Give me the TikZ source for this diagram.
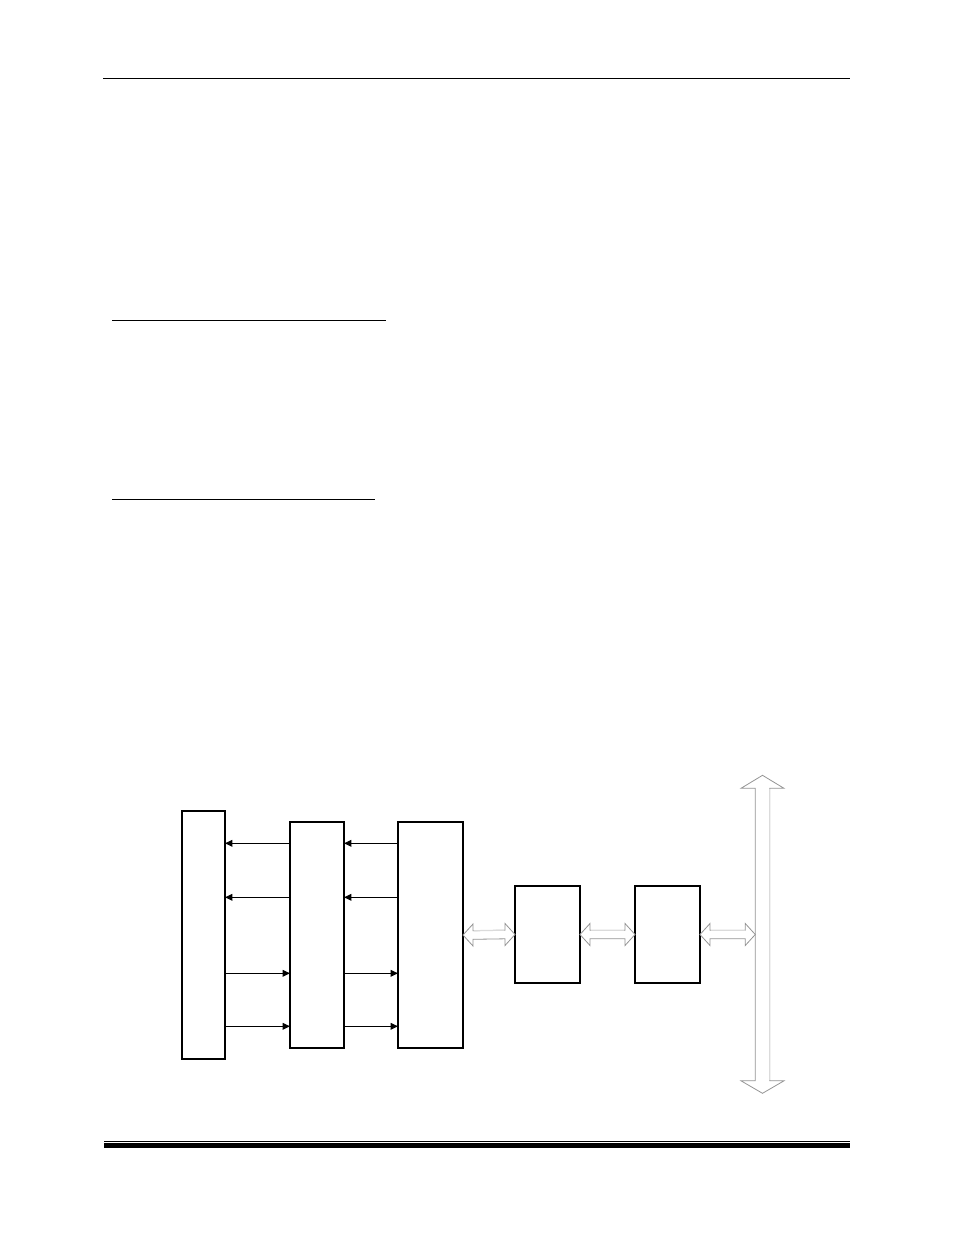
\documentclass[tikz,border=0pt]{standalone}
\usetikzlibrary{calc,arrows.meta}
\definecolor{bdark}{gray}{0.58}
\definecolor{blight}{gray}{0.86}
\newcommand\dblarr[2]{%
  \filldraw[barrow] (#1) -- ($(#1)+(10,-11)$) -- ($(#1)+(10,-4.3)$) -- ($(#2)+(-10,-4.3)$) -- ($(#2)+(-10,-11)$) -- (#2) -- ($(#2)+(-10,11)$) -- ($(#2)+(-10,4.3)$) -- ($(#1)+(10,4.3)$) -- ($(#1)+(10,11)$) -- cycle;
  \draw[blight, line width=0.9pt] ($(#1)+(10.6,-4.3)$) -- ($(#2)+(-10.6,-4.3)$);
}
\begin{document}
\begin{tikzpicture}[x=0.75pt,y=-0.75pt,
  blk/.style={draw, line width=0.8pt, fill=white, inner sep=0pt, outer sep=0pt, minimum height=#1},
  sig/.style={draw, line width=0.8pt, -{Triangle[length=5.5pt,width=5pt]}},
  barrow/.style={draw=bdark, fill=white, line width=0.6pt, line join=miter},
  rule/.style={line width=0.8pt}]
\useasboundingbox (0,0) rectangle (954,1235);
% page rules
\coordinate (h1) at (103,78.3); \coordinate (h2) at (850,78.3);
\draw[rule] (h1) -- (h2);
\coordinate (u1a) at (112,320.3); \coordinate (u1b) at (385.7,320.3);
\draw[rule] (u1a) -- (u1b);
\coordinate (u2a) at (112,499.3); \coordinate (u2b) at (374.7,499.3);
\draw[rule] (u2a) -- (u2b);
\coordinate (f1a) at (104,1141.3); \coordinate (f1b) at (850,1141.3);
\draw[line width=0.8pt] (f1a) -- (f1b);
\coordinate (f2a) at (104,1145.5); \coordinate (f2b) at (850,1145.5);
\draw[line width=3.3pt] (f2a) -- (f2b);
% blocks
\node[blk=186pt, minimum width=32.25pt] (A) at (203.5,935) {};
\node[blk=169.5pt, minimum width=40.5pt] (B) at (317,935) {};
\node[blk=169.5pt, minimum width=48.75pt] (C) at (430.5,935) {};
\node[blk=72.75pt, minimum width=48.75pt] (D) at (547.5,934.5) {};
\node[blk=72.75pt, minimum width=48.75pt] (E) at (667.5,934.5) {};
% signal rows
\coordinate (r1) at (0,843.3);
\coordinate (r2) at (0,897.3);
\coordinate (r3) at (0,973.3);
\coordinate (r4) at (0,1026.3);
\draw[sig] (B.west |- r1) -- (A.east |- r1);
\draw[sig] (B.west |- r2) -- (A.east |- r2);
\draw[sig] (C.west |- r1) -- (B.east |- r1);
\draw[sig] (C.west |- r2) -- (B.east |- r2);
\draw[sig] (A.east |- r3) -- (B.west |- r3);
\draw[sig] (A.east |- r4) -- (B.west |- r4);
\draw[sig] (B.east |- r3) -- (C.west |- r3);
\draw[sig] (B.east |- r4) -- (C.west |- r4);
% bus
\coordinate (T) at (762.5,775.3);
\coordinate (Bt) at (762.5,1093.3);
\filldraw[barrow] (T) -- ($(T)+(21.5,13)$) -- ($(T)+(7.25,13)$) -- ($(Bt)+(7.25,-12.5)$) -- ($(Bt)+(21.5,-12.5)$) -- (Bt) -- ($(Bt)+(-21.5,-12.5)$) -- ($(Bt)+(-7.25,-12.5)$) -- ($(T)+(-7.25,13)$) -- ($(T)+(-21.5,13)$) -- cycle;
\draw[blight, line width=0.9pt] ($(T)+(7.25,13.6)$) -- ($(Bt)+(7.25,-13.1)$);
% double arrows
\coordinate (busL) at ($(E.east -| T)+(-7.25,0)$);
\dblarr{C.east}{D.west}
\dblarr{D.east}{E.west}
\dblarr{E.east}{busL}
\end{tikzpicture}
\end{document}
